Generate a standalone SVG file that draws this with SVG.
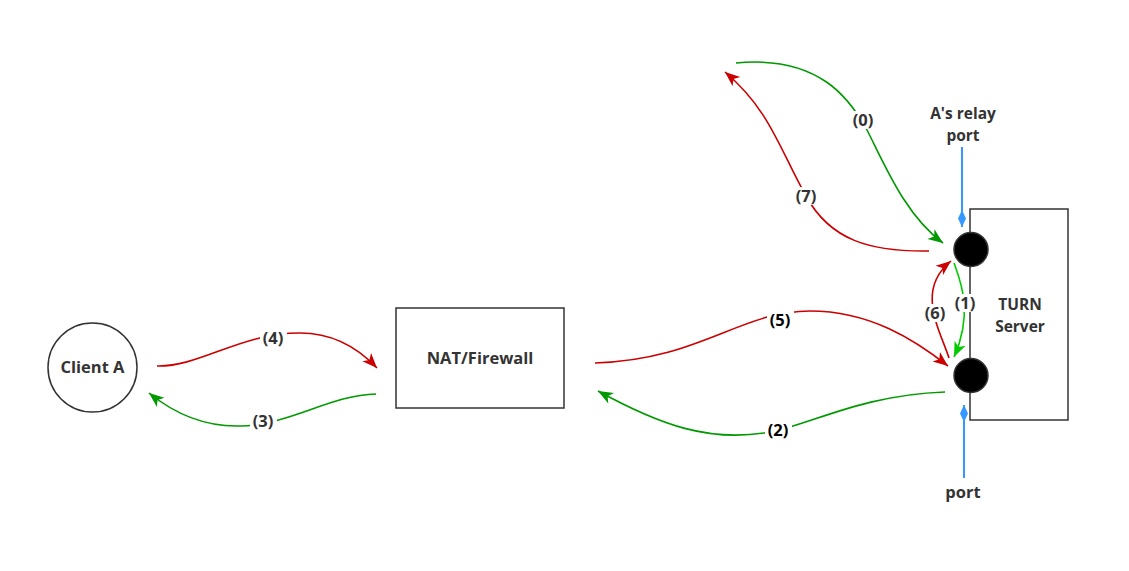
<svg xmlns="http://www.w3.org/2000/svg" width="1129" height="571" viewBox="0 0 1129 571">
<style>
text{font-family:"Open Sans","Noto Sans","DejaVu Sans",sans-serif;font-weight:bold;font-size:16.5px;fill:#333;text-anchor:middle;dominant-baseline:central}
text.m{font-size:15.5px}
text.k{fill:#000}
.shape{fill:#fff;stroke:#333;stroke-width:1.5}
.port{fill:#000;stroke:#333;stroke-width:1.5}
.c{fill:none;stroke-width:1.6}
.r{stroke:#CC0000}
.g{stroke:#009900}
.lg{stroke:#00CC00}
.b{stroke:#3399FF;stroke-width:2;fill:none}
.lbl{fill:#fff}
</style>
<defs>
<marker id="ar" markerUnits="userSpaceOnUse" markerWidth="17" markerHeight="13" refX="15" refY="6" orient="auto" overflow="visible"><path d="M0,0 L15,6 L0,12 L4,6 Z" fill="#CC0000"/></marker>
<marker id="ag" markerUnits="userSpaceOnUse" markerWidth="17" markerHeight="13" refX="15" refY="6" orient="auto" overflow="visible"><path d="M0,0 L15,6 L0,12 L4,6 Z" fill="#009900"/></marker>
<marker id="alg" markerUnits="userSpaceOnUse" markerWidth="17" markerHeight="13" refX="15" refY="6" orient="auto" overflow="visible"><path d="M0,0 L15,6 L0,12 L4,6 Z" fill="#00CC00"/></marker>
<marker id="dia" markerUnits="userSpaceOnUse" markerWidth="18" markerHeight="9" refX="17" refY="4" orient="auto" overflow="visible"><path d="M0,4 L8.5,0 L17,4 L8.5,8 Z" fill="#3399FF"/></marker>
</defs>
<rect width="1129" height="571" fill="#fff"/>

<g id="client-a"><circle class="shape" cx="92.5" cy="367.5" r="44.5"/><text x="92.5" y="366.5">Client A</text></g>
<g id="nat"><rect class="shape" x="396" y="308" width="168" height="100"/><text x="480" y="357.5">NAT/Firewall</text></g>
<g id="turn"><rect class="shape" x="970" y="209" width="98" height="211"/><text class="m" x="1020" y="304"><tspan x="1020">TURN</tspan><tspan x="1020" dy="21.5">Server</tspan></text></g>
<g id="port-top"><circle class="port" cx="971" cy="249.5" r="17"/></g>
<g id="port-bottom"><circle class="port" cx="971" cy="375.5" r="17"/></g>
<g id="label-relay"><text class="m" x="963" y="113"><tspan x="963">A's relay</tspan><tspan x="963" dy="21.5">port</tspan></text></g>
<g id="label-port"><text x="963" y="491.5">port</text></g>

<g id="connectors">
<path class="b" d="M962 147 L962 227" marker-end="url(#dia)"/>
<path class="b" d="M964 478 L964 405" marker-end="url(#dia)"/>
<path class="c g" d="M736 63 C 820 55 850 100 866 128 C 885 165 905 215 943 243" marker-end="url(#ag)"/>
<path class="c r" d="M929 251 C 870 252 830 240 806 196 C 780 150 770 110 725 72" marker-end="url(#ar)"/>
<path class="c lg" d="M954 263 C 960 280 974 312 954 357" marker-end="url(#alg)"/>
<path class="c r" d="M949 358 C 940 330 915 290 951 261" marker-end="url(#ar)"/>
<path class="c r" d="M595 363 C 700 360 740 311 810 311 C 870 311 915 340 948 366" marker-end="url(#ar)"/>
<path class="c g" d="M945 392 C 860 395 810 425 770 432 C 710 443 660 425 598 391" marker-end="url(#ag)"/>
<path class="c r" d="M157 366 C 200 367 240 333 300 333 C 335 333 360 350 377 368" marker-end="url(#ar)"/>
<path class="c g" d="M376 394 C 330 395 290 425 240 426 C 200 427 170 410 149 393" marker-end="url(#ag)"/>
<rect class="lbl" x="850" y="111" width="27" height="18"/><text x="863" y="119.5">(0)</text>
<rect class="lbl" x="793" y="187" width="27" height="18"/><text x="806" y="195.5">(7)</text>
<rect class="lbl" x="952" y="294" width="27" height="18"/><text x="965" y="302.5">(1)</text>
<rect class="lbl" x="922" y="304" width="27" height="18"/><text x="935" y="312.5">(6)</text>
<rect class="lbl" x="767" y="311" width="27" height="18"/><text class="k" x="780" y="319.5">(5)</text>
<rect class="lbl" x="765" y="421" width="27" height="18"/><text class="k" x="778" y="429.5">(2)</text>
<rect class="lbl" x="260" y="329" width="27" height="18"/><text x="273" y="337.5">(4)</text>
<rect class="lbl" x="250" y="412" width="27" height="18"/><text x="263" y="420.5">(3)</text>
</g>
</svg>
